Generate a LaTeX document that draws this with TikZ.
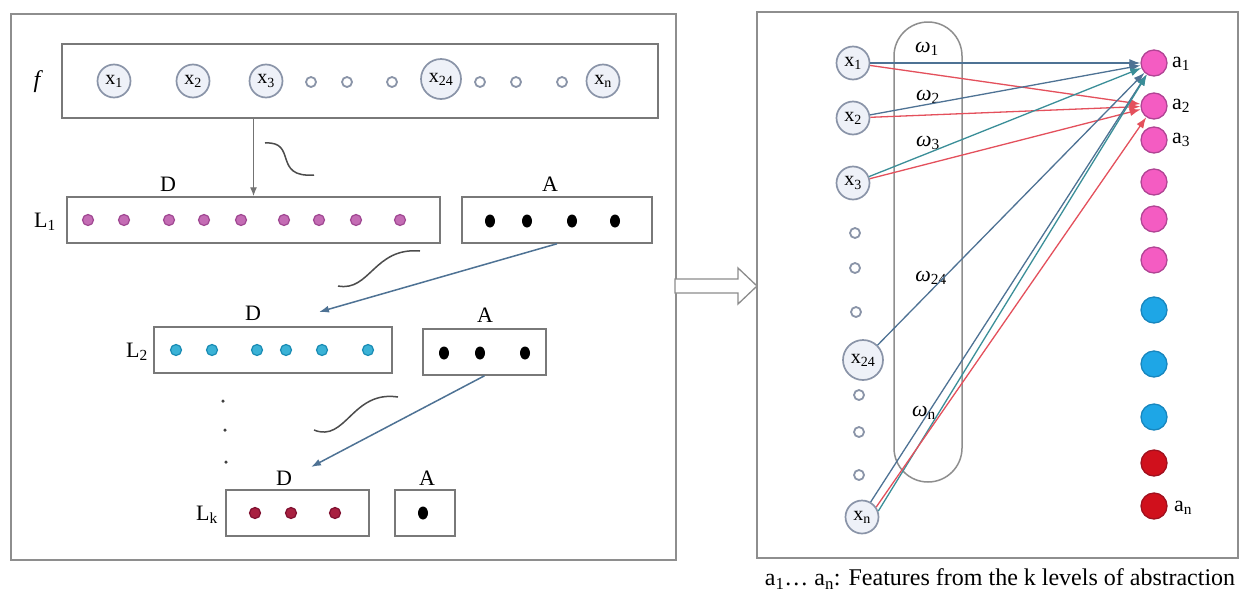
\documentclass[tikz,border=0pt]{standalone}
\usepackage{fontspec}
\setmainfont{Liberation Serif}
\usetikzlibrary{arrows.meta,shapes.geometric}
\definecolor{boxgray}{HTML}{8E8E8E}
\definecolor{cgray}{HTML}{8A94A8}
\definecolor{cfill}{HTML}{EEF1F8}
\definecolor{magdot}{HTML}{C46CB4}
\definecolor{magdotd}{HTML}{A04892}
\definecolor{cyandot}{HTML}{3AB2D6}
\definecolor{cyandotd}{HTML}{1A8CB4}
\definecolor{reddot}{HTML}{A82040}
\definecolor{reddotd}{HTML}{801030}
\definecolor{lineblue}{HTML}{4E7294}
\definecolor{lineteal}{HTML}{3A8E98}
\definecolor{linered}{HTML}{E4505C}
\definecolor{outmag}{HTML}{F45CC2}
\definecolor{outmagd}{HTML}{B04494}
\definecolor{outcyan}{HTML}{1EA6E6}
\definecolor{outcyand}{HTML}{1886BE}
\definecolor{outred}{HTML}{D0101C}
\definecolor{outredd}{HTML}{A0101E}
\tikzset{
  panel/.style={draw=boxgray, line width=1.8pt, inner sep=0pt},
  rowbox/.style={draw=boxgray!85!black, line width=1.5pt, inner sep=0pt},
  bignode/.style={circle, draw=cgray, fill=cfill, line width=1.7pt, minimum size=33pt, inner sep=0pt, font=\fontsize{20}{22}\selectfont},
  hugenode/.style={bignode, minimum size=40pt},
  smallnode/.style={circle, draw=cgray, line width=1.8pt, minimum size=10pt, inner sep=0pt},
  mdot/.style={circle, fill=magdot, draw=magdotd, line width=1.2pt, minimum size=11pt, inner sep=0pt},
  cdot/.style={circle, fill=cyandot, draw=cyandotd, line width=1.2pt, minimum size=11pt, inner sep=0pt},
  rdot/.style={circle, fill=reddot, draw=reddotd, line width=1.2pt, minimum size=11pt, inner sep=0pt},
  bdot/.style={ellipse, fill=black, minimum width=10pt, minimum height=13pt, inner sep=0pt},
  vdot/.style={circle, fill=black!75, minimum size=3.5pt, inner sep=0pt},
  lab/.style={font=\fontsize{22}{26}\selectfont, inner sep=0pt},
  wlab/.style={font=\fontsize{22}{26}\selectfont\itshape, inner sep=0pt},
  outnode/.style={circle, minimum size=26pt, inner sep=0pt, line width=1.3pt},
  omag/.style={outnode, fill=outmag, draw=outmagd},
  ocyan/.style={outnode, fill=outcyan, draw=outcyand},
  ored/.style={outnode, fill=outred, draw=outredd},
  grayarrow/.style={draw=black!55, line width=1.3pt, -{Latex[length=9pt,width=7pt]}},
  bluearrow/.style={draw=lineblue, line width=1.5pt, -{Latex[length=10pt,width=7pt]}},
  squig/.style={draw=black!70, line width=1.5pt},
  eblue/.style={draw=lineblue, line width=1.3pt, -{Latex[length=11pt,width=8pt]}},
  eteal/.style={draw=lineteal, line width=1.3pt, -{Latex[length=11pt,width=8pt]}},
  ered/.style={draw=linered, line width=1.3pt, -{Latex[length=11pt,width=8pt]}},
}
\begin{document}
\begin{tikzpicture}[x=1pt,y=-1pt]
\useasboundingbox (0,0) rectangle (1241,592);
\fill[white] (0,0) rectangle (1241,592);

% ---------------- left panel ----------------
\node[panel, minimum width=665pt, minimum height=546pt] (leftpanel) at (343.5,287) {};
\node[rowbox, minimum width=596pt, minimum height=74pt] (fbox) at (360,81) {};
\node[font=\fontsize{24}{28}\selectfont\itshape, inner sep=0pt] (flab) at (37,82) {f};

\node[bignode] (fx1) at (114,81) {x\textsubscript{1}};
\node[bignode] (fx2) at (193,81) {x\textsubscript{2}};
\node[bignode] (fx3) at (266,81) {x\textsubscript{3}};
\node[smallnode] (fs1) at (311,82) {};
\node[smallnode] (fs2) at (347,82) {};
\node[smallnode] (fs3) at (392,82) {};
\node[hugenode] (fx24) at (441,79) {x\textsubscript{24}};
\node[smallnode] (fs4) at (480,82) {};
\node[smallnode] (fs5) at (516,82) {};
\node[smallnode] (fs6) at (562,82) {};
\node[bignode] (fxn) at (603,81) {x\textsubscript{n}};

% level 1
\node[rowbox, minimum width=373pt, minimum height=46pt] (L1) at (253.5,220) {};
\node[rowbox, minimum width=190pt, minimum height=46pt] (A1) at (557,220) {};
\node[lab] (L1lab) at (45,222) {L\textsubscript{1}};
\node[lab] (D1lab) at (168,184) {D};
\node[lab] (A1lab) at (550,184) {A};
\foreach \x [count=\i] in {88,124,169,204,241,284,319,356,400}
  \node[mdot] (m\i) at (\x,220) {};
\foreach \x [count=\i] in {490,527,572,615}
  \node[bdot] (b1\i) at (\x,221) {};

% level 2
\node[rowbox, minimum width=238pt, minimum height=46pt] (L2) at (273,350) {};
\node[rowbox, minimum width=123pt, minimum height=46pt] (A2) at (484.5,352) {};
\node[lab] (L2lab) at (137,352) {L\textsubscript{2}};
\node[lab] (D2lab) at (253,313) {D};
\node[lab] (A2lab) at (485,315) {A};
\foreach \x [count=\i] in {176,212,257,286,322,368}
  \node[cdot] (c\i) at (\x,350) {};
\foreach \x [count=\i] in {444,480,525}
  \node[bdot] (b2\i) at (\x,353) {};

% vertical dots
\node[vdot] (vd1) at (223,401) {};
\node[vdot] (vd2) at (225,430) {};
\node[vdot] (vd3) at (226,462) {};

% level k
\node[rowbox, minimum width=143pt, minimum height=46pt] (Lk) at (297.5,513) {};
\node[rowbox, minimum width=60pt, minimum height=46pt] (Ak) at (425,513) {};
\node[lab] (Lklab) at (207,515) {L\textsubscript{k}};
\node[lab] (D3lab) at (284,478) {D};
\node[lab] (A3lab) at (427,478) {A};
\foreach \x [count=\i] in {255,291,335}
  \node[rdot] (r\i) at (\x,513) {};
\node[bdot] (bk1) at (423,513) {};

% arrows in left panel
\draw[grayarrow] (fbox.south -| L1.north) -- (L1.north);
\coordinate (t1) at (319,312);
\coordinate (t2) at (311,467);
\draw[bluearrow] (A1.south) -- (t1);
\draw[bluearrow] (A2.south) -- (t2);

% squiggles
\draw[squig] (265,143) .. controls (298,141) and (272,178) .. (314,175);
\draw[squig] (338,286) .. controls (370,292) and (374,247) .. (420,251);
\draw[squig] (314,430) .. controls (346,443) and (352,390) .. (398,397);

% hollow arrow between panels
\draw[draw=black!45, fill=white, line width=1.3pt, line join=miter]
  (675,279) -- (738,279) -- (738,268) -- (757,286) -- (738,304) -- (738,293) -- (675,293) -- cycle;

% ---------------- right panel ----------------
\node[panel, minimum width=481pt, minimum height=546pt] (rightpanel) at (997.5,285) {};
\node[draw=boxgray, line width=1.5pt, rounded corners=34pt, minimum width=68pt, minimum height=460pt, inner sep=0pt] (pill) at (928,252) {};

\node[bignode] (x1) at (853,63) {x\textsubscript{1}};
\node[bignode] (x2) at (853,118) {x\textsubscript{2}};
\node[bignode] (x3) at (853,183) {x\textsubscript{3}};
\node[smallnode] (s1) at (855,233) {};
\node[smallnode] (s2) at (855,268) {};
\node[smallnode] (s3) at (856,312) {};
\node[hugenode] (x24) at (863,360) {x\textsubscript{24}};
\node[smallnode] (s4) at (859,395) {};
\node[smallnode] (s5) at (859,432) {};
\node[smallnode] (s6) at (859,475) {};
\node[bignode] (xn) at (862,517) {x\textsubscript{n}};

\node[omag] (a1) at (1154,63) {};
\node[omag] (a2) at (1154,106) {};
\node[omag] (a3) at (1154,140) {};
\node[omag] (a4) at (1154,182) {};
\node[omag] (a5) at (1154,219) {};
\node[omag] (a6) at (1154,260) {};
\node[ocyan] (a7) at (1154,310) {};
\node[ocyan] (a8) at (1154,364) {};
\node[ocyan] (a9) at (1154,417) {};
\node[ored] (a10) at (1154,463) {};
\node[ored] (a11) at (1154,506) {};

\node[lab, anchor=west] (a1lab) at (1172,64) {a\textsubscript{1}};
\node[lab, anchor=west] (a2lab) at (1172,106) {a\textsubscript{2}};
\node[lab, anchor=west] (a3lab) at (1172,140) {a\textsubscript{3}};
\node[lab, anchor=west] (anlab) at (1174,508) {a\textsubscript{n}};

\node[wlab] (w1) at (927,49) {ω\textsubscript{\upshape 1}};
\node[wlab] (w2) at (928,97) {ω\textsubscript{\upshape 2}};
\node[wlab] (w3) at (928,143) {ω\textsubscript{\upshape 3}};
\node[wlab] (w24) at (931,278) {ω\textsubscript{\upshape 24}};
\node[wlab] (wn) at (924,413) {ω\textsubscript{\upshape n}};

% connectors
\draw[eblue] (x1) -- (a1);
\draw[ered] (x1) -- (a2);
\draw[eblue] (x2) -- (a1);
\draw[ered] (x2) -- (a2);
\draw[eteal] (x3) -- (a1);
\draw[ered] (x3) -- (a2);
\draw[eblue] (x24) -- (a1);
\draw[eblue] (xn.60) -- (a1);
\draw[eteal] (xn.20) -- (a1);
\draw[ered] (xn.35) -- (a2);

% caption
\node[font=\fontsize{24}{28}\selectfont, inner sep=0pt] (caption) at (1000,579) {a\textsubscript{1}… a\textsubscript{n}: Features from the k levels of abstraction};
\end{tikzpicture}
\end{document}
